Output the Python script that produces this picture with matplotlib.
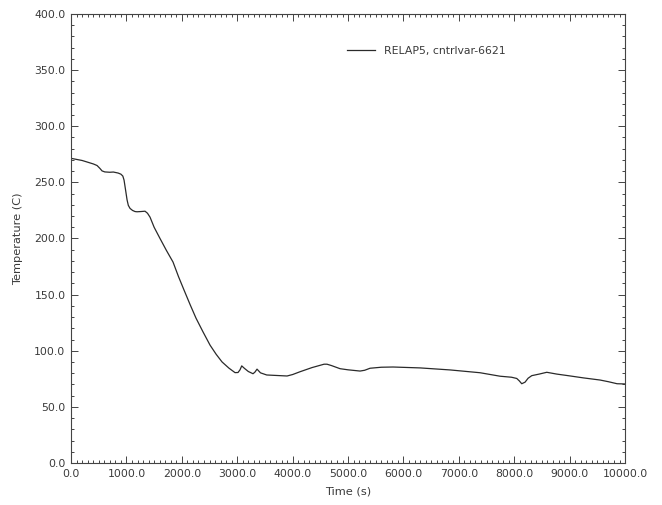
import matplotlib
matplotlib.use("Agg")
import matplotlib.pyplot as plt
from matplotlib.ticker import MultipleLocator, FormatStrFormatter

# RELAP5 cntrlvar-6621
time_s = [0, 200, 403, 470, 520, 560, 610, 700, 764, 850, 900, 935, 957, 985,
          1011, 1034, 1065, 1110, 1155, 1191, 1260, 1336, 1380, 1426, 1500,
          1606, 1720, 1841, 1940, 2040, 2150, 2256, 2380, 2509, 2620, 2726,
          2850, 2960, 3014, 3050, 3081, 3130, 3200, 3285, 3320, 3357, 3420,
          3532, 3736, 3899, 4000, 4134, 4350, 4567, 4620, 4700, 4856, 5000,
          5217, 5300, 5397, 5600, 5812, 6300, 6841, 7383, 7744, 7950, 8045,
          8090, 8135, 8195, 8250, 8316, 8450, 8587, 8767, 8971, 9250, 9549,
          9700, 9856, 10000]
temp_c = [271.4, 269.5, 266.4, 265.0, 262.5, 260.2, 259.3, 259.0, 259.2,
          258.3, 257.3, 255.6, 252.0, 243.0, 234.5, 229.5, 226.8, 225.0, 224.0,
          223.8, 224.0, 224.3, 222.5, 219.0, 210.0, 200.0, 189.5, 179.0, 166.0,
          154.0, 141.0, 129.0, 117.0, 105.0, 96.8, 90.0, 84.5, 80.5, 80.6,
          83.0, 86.5, 84.3, 81.5, 79.5, 81.0, 83.6, 80.3, 78.4, 77.9, 77.5,
          78.8, 81.3, 85.0, 88.0, 88.0, 86.8, 84.0, 83.0, 81.9, 82.6, 84.4,
          85.3, 85.5, 84.7, 82.9, 80.4, 77.3, 76.4, 75.3, 73.2, 70.6, 72.0,
          75.5, 77.8, 79.2, 80.8, 79.2, 77.8, 75.8, 73.9, 72.4, 70.6, 70.4]

plt.rcParams['font.family'] = ['DejaVu Sans']
txt = '#3a3a3a'

fig = plt.figure(figsize=(6.62, 5.05), dpi=100)
ax = fig.add_axes([0.1073, 0.0832, 0.8369, 0.8891])

ax.plot(time_s, temp_c, color='#2a2a2a', linewidth=0.9, label='RELAP5, cntrlvar-6621')

ax.set_xlim(0, 10000)
ax.set_ylim(0, 400)
ax.xaxis.set_major_locator(MultipleLocator(1000))
ax.xaxis.set_minor_locator(MultipleLocator(100))
ax.yaxis.set_major_locator(MultipleLocator(50))
ax.yaxis.set_minor_locator(MultipleLocator(10))
ax.xaxis.set_major_formatter(FormatStrFormatter('%.1f'))
ax.yaxis.set_major_formatter(FormatStrFormatter('%.1f'))
ax.tick_params(which='both', direction='in', top=True, right=True,
               colors='#444444', labelcolor=txt, labelsize=7.8, width=0.7)
ax.tick_params(which='major', length=5, pad=4)
ax.tick_params(which='minor', length=2.5)
for s in ax.spines.values():
    s.set_color('#444444')
    s.set_linewidth(0.8)

ax.set_xlabel('Time (s)', fontsize=8.2, color=txt, labelpad=6)
ax.set_ylabel('Temperature (C)', fontsize=8.2, color=txt, labelpad=8)

ax.legend(loc='upper left', bbox_to_anchor=(0.48, 0.95), frameon=False,
          fontsize=7.8, handlelength=2.6, handletextpad=0.8, labelcolor=txt)

fig.savefig('out.png', dpi=100)
